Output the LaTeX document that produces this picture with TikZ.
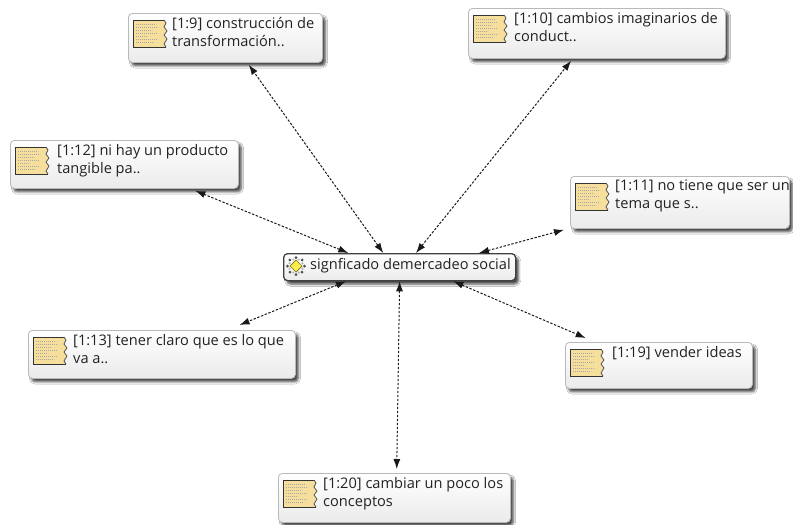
\documentclass[tikz,border=0pt]{standalone}
\usepackage{fontspec}
\setmainfont{Open Sans}
\usetikzlibrary{arrows.meta,calc,shadows.blur}
\definecolor{paper}{HTML}{F6DE9C}
\definecolor{txtc}{HTML}{222222}
\tikzset{
  box/.style={rectangle, rounded corners=4pt, draw=gray!55, line width=0.8pt,
    top color=white, bottom color=gray!16, inner sep=0pt, anchor=north west,
    blur shadow={shadow xshift=3pt, shadow yshift=-3.5pt, shadow blur steps=6, shadow opacity=70}},
  codebox/.style={box, draw=black!75, line width=1.3pt},
  txt/.style={anchor=north west, inner sep=0pt, align=left, text=txtc,
    font=\fontsize{14.6}{18}\selectfont},
  conn/.style={draw=black!90, line width=1pt, dash pattern=on 2.4pt off 1.6pt,
    {Latex[length=10pt,width=7pt]}-{Latex[length=10pt,width=7pt]}},
  docicon/.pic={
    \fill[paper] (0,0) -- (31,0) -- (33,3) -- (31,7) -- (34,11) -- (31,15) -- (34,19) -- (31,24) -- (33,27) -- (0,27) -- cycle;
    \draw[black!80, line width=0.9pt] (31,0) -- (0,0) -- (0,27) -- (33,27);
    \draw[black!70, line width=0.7pt] (31,0) -- (33,3) -- (31,7) -- (34,11) -- (31,15) -- (34,19) -- (31,24) -- (33,27);
    \foreach \yy/\len in {4/20,7/22,10/16,13/21,16/12,19/22,22/18}
      \draw[gray!70, line width=0.5pt, dash pattern=on 1.2pt off 0.8pt] (3,\yy) -- ++(\len,0);
  },
  codeicon/.pic={
    \foreach \a in {0,45,...,315}
      \fill[black!70] (\a:8.5) circle (1.5pt);
    \foreach \a in {22.5,67.5,...,337.5}
      \fill[gray!65] (\a:7) circle (1.1pt);
    \filldraw[fill=yellow!90!orange!70, draw=olive!80!black, line width=0.7pt] (0,-6) -- (6,0) -- (0,6) -- (-6,0) -- cycle;
  }
}
\begin{document}
\begin{tikzpicture}[x=1pt,y=-1pt]
\useasboundingbox[fill=white] (0,0) rectangle (793,525);

% central code node
\node[codebox, minimum width=232pt, minimum height=27pt] (c) at (283,253) {};
\pic at ([xshift=13pt,yshift=-13pt]c.north west) {codeicon};
\node[txt] (ct) at ([xshift=27pt,yshift=-5pt]c.north west) {signficado demercadeo social};

% quotation boxes
\node[box, minimum width=194pt, minimum height=49pt] (b9) at (128,13) {};
\node[box, minimum width=257pt, minimum height=50pt] (b10) at (468,8) {};
\node[box, minimum width=228pt, minimum height=48pt] (b12) at (10,140) {};
\node[box, minimum width=219pt, minimum height=52pt] (b11) at (570,176) {};
\node[box, minimum width=267pt, minimum height=48pt] (b13) at (28,330) {};
\node[box, minimum width=187pt, minimum height=46pt] (b19) at (565,342) {};
\node[box, minimum width=232pt, minimum height=49pt] (b20) at (278,473) {};

\foreach \b in {b9,b10,b12,b11,b13,b19,b20}
  \pic at ([xshift=5pt,yshift=-7pt]\b.north west) {docicon};

\node[txt] (t9) at ([xshift=44pt,yshift=-4pt]b9.north west) {[1:9] construcción de\\transformación..};
\node[txt] (t10) at ([xshift=46pt,yshift=-4pt]b10.north west) {[1:10] cambios imaginarios de\\conduct..};
\node[txt] (t12) at ([xshift=47pt,yshift=-4pt]b12.north west) {[1:12] ni hay un producto\\tangible pa..};
\node[txt] (t11) at ([xshift=45pt,yshift=-4pt]b11.north west) {[1:11] no tiene que ser un\\tema que s..};
\node[txt] (t13) at ([xshift=45pt,yshift=-4pt]b13.north west) {[1:13] tener claro que es lo que\\va a..};
\node[txt] (t19) at ([xshift=47pt,yshift=-4pt]b19.north west) {[1:19] vender ideas};
\node[txt] (t20) at ([xshift=45pt,yshift=-4pt]b20.north west) {[1:20] cambiar un poco los\\conceptos};

% connectors
\draw[conn] ($(c.north west)!0.43!(c.north east)$) -- ($(b9.south west)!0.62!(b9.south east)+(0,2)$);
\draw[conn] ($(c.north west)!0.57!(c.north east)$) -- ($(b10.south west)!0.40!(b10.south east)+(0,2)$);
\draw[conn] ($(c.north west)!0.28!(c.north east)$) -- ($(b12.south west)!0.81!(b12.south east)+(0,2)$);
\draw[conn] ($(c.north west)!0.84!(c.north east)$) -- ($(b11.south west)+(-6,1)$);
\draw[conn] ($(c.south west)!0.27!(c.south east)$) -- ($(b13.north west)!0.79!(b13.north east)+(0,-5)$);
\draw[conn] ($(c.south west)!0.73!(c.south east)$) -- ($(b19.north west)!0.11!(b19.north east)+(0,-4)$);
\draw[conn] ($(c.south west)!0.50!(c.south east)$) -- ($(b20.north west)!0.51!(b20.north east)+(0,-4)$);
\end{tikzpicture}
\end{document}
